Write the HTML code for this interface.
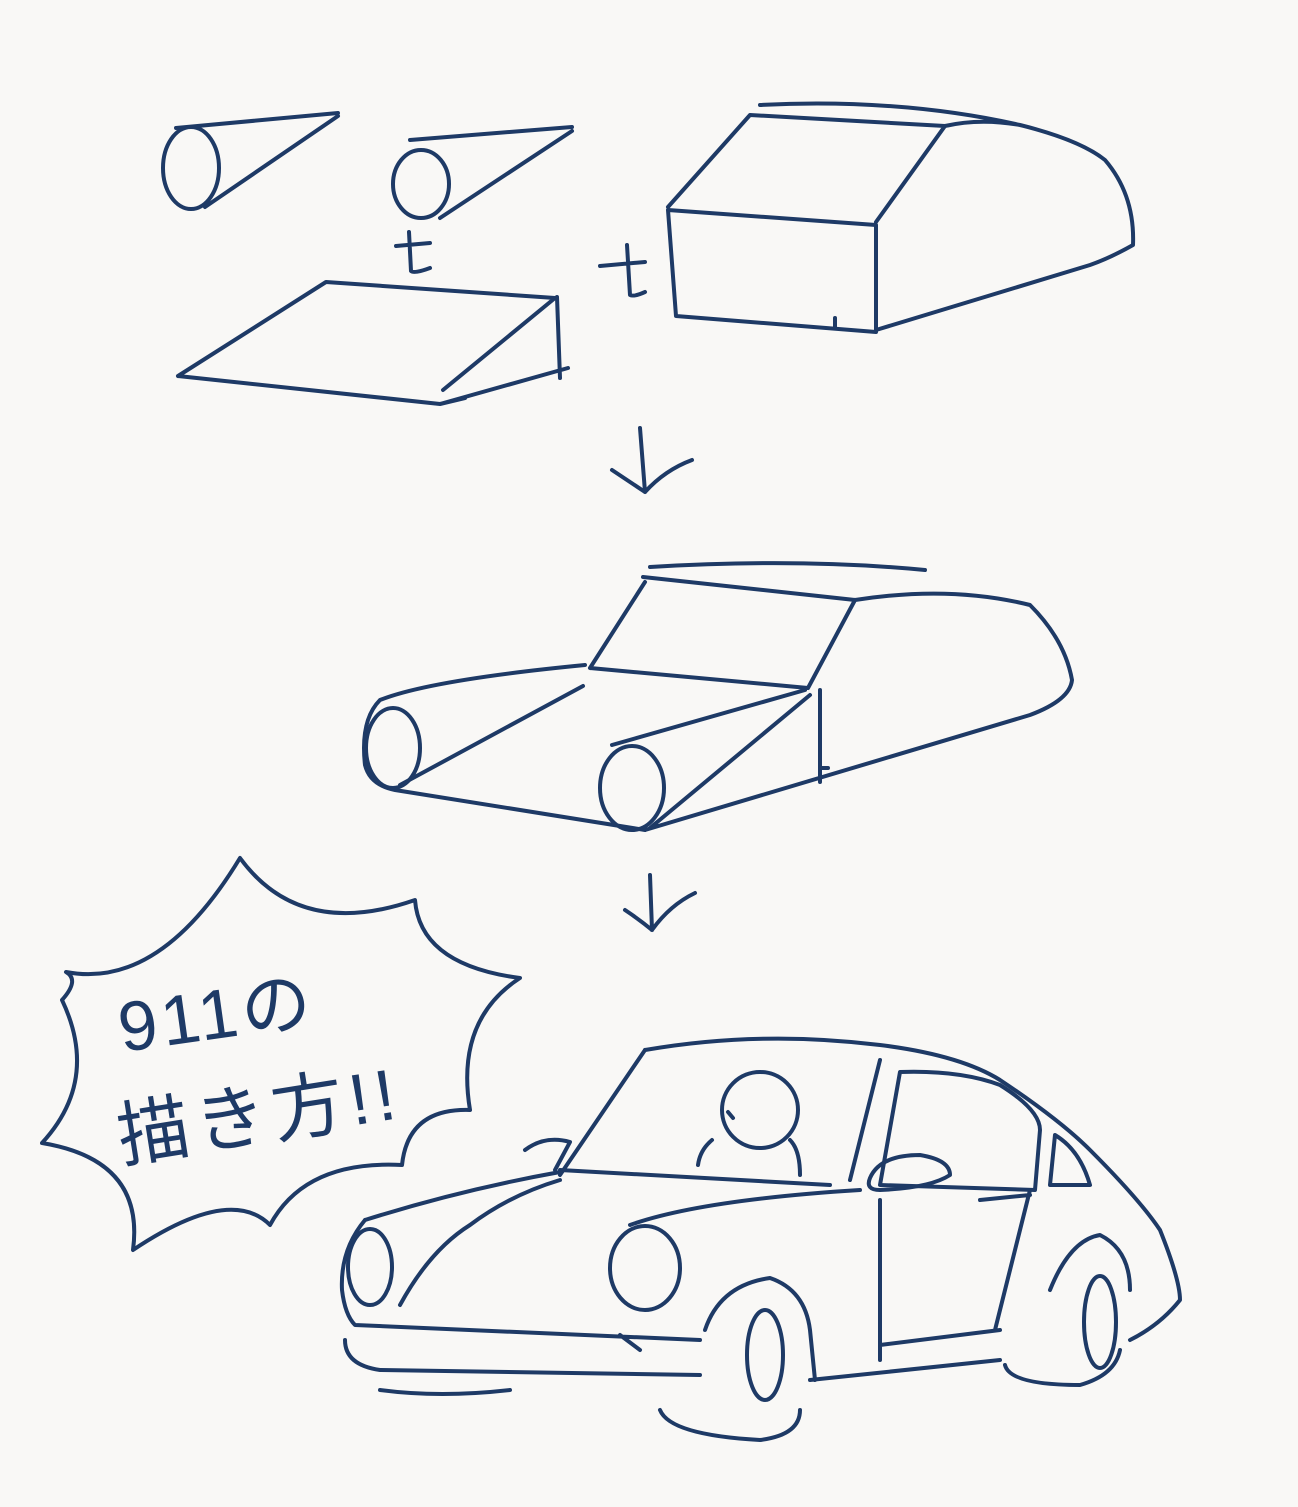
<!DOCTYPE html>
<html><head><meta charset="utf-8"><style>
html,body{margin:0;padding:0;background:#f9f8f6;}
svg{display:block}
</style></head><body>
<svg width="1298" height="1507" viewBox="0 0 1298 1507" xmlns="http://www.w3.org/2000/svg">
<rect width="1298" height="1507" fill="#f9f8f6"/>
<g fill="none" stroke="#1e3a66" stroke-width="4" stroke-linecap="round" stroke-linejoin="round">
<ellipse cx="191" cy="168" rx="28" ry="41"/>
<path d="M176 128 L338 113 M338 116 L205 207"/>
<ellipse cx="421" cy="184" rx="28" ry="34"/>
<path d="M410 140 L572 127 M572 131 L440 218"/>
<path d="M409 232 L411 271 Q414 274 430 268 M396 246 L430 243"/>
<path d="M627 245 L630 295 Q634 297 645 292 M600 266 L645 262"/>
<path d="M178 376 L326 282 L555 298 L443 390 M178 376 L440 404 L568 368 M557 297 L560 378 M440 404 L465 398"/>
<path d="M668 210 L876 225 L876 332 L676 316 Z M668 207 L750 115 L945 126 L876 222 M760 105 Q900 98 1020 125 M945 126 Q980 118 1020 125 Q1080 140 1105 160 Q1135 195 1133 245 Q1110 258 1090 265 L876 330 M835 318 L835 328"/>
<path d="M640 428 L645 492 M612 470 Q630 482 645 492 Q665 470 692 460"/>
<path d="M650 567 Q800 558 925 570 M643 577 L855 600 M645 582 L590 668 M855 600 L808 688 M855 600 Q950 585 1030 605 Q1065 640 1072 680 Q1070 700 1030 715 L645 830 M590 668 L808 688 M585 665 Q430 680 380 700 Q360 720 365 765 Q370 785 395 790 L645 830 M400 785 L583 686 M612 745 L805 690 M650 828 L810 695 M820 690 L820 782 M820 768 L828 768"/>
<ellipse cx="393" cy="748" rx="27" ry="40"/>
<ellipse cx="632" cy="788" rx="32" ry="42"/>
<path d="M650 875 L652 930 M625 910 Q640 920 652 930 Q670 905 695 893"/>
<path d="M240 858 Q300 940 415 900 Q420 965 520 978 Q455 1020 470 1110 Q408 1108 402 1165 Q305 1160 270 1225 Q230 1185 133 1250 Q145 1160 42 1143 Q100 1080 62 1000 Q80 980 66 972 Q160 990 240 858"/>
<path d="M645 1050 Q760 1030 880 1045 Q960 1055 1000 1080 Q1060 1120 1090 1150 Q1140 1200 1160 1230 Q1180 1280 1180 1300 Q1160 1325 1130 1340"/>
<path d="M645 1050 L560 1175 M880 1060 L850 1180"/>
<path d="M900 1072 Q960 1070 1000 1085 Q1040 1110 1040 1130 L1035 1190 L880 1185 Z"/>
<path d="M1055 1135 Q1080 1150 1090 1185 L1050 1185 Z"/>
<path d="M560 1170 L830 1185 M365 1220 Q460 1190 560 1172 M400 1305 Q430 1250 470 1225 Q510 1195 560 1180"/>
<path d="M630 1225 Q700 1200 860 1190"/>
<ellipse cx="370" cy="1267" rx="22" ry="38"/>
<ellipse cx="645" cy="1268" rx="35" ry="42"/>
<path d="M365 1220 Q340 1250 342 1290 Q345 1315 355 1325 L700 1340 M345 1340 Q345 1365 380 1370 L700 1375 M380 1390 Q440 1398 510 1390 M620 1335 L640 1350"/>
<path d="M705 1330 Q720 1285 770 1278 Q805 1290 810 1330 L815 1380"/>
<ellipse cx="765" cy="1355" rx="18" ry="45"/>
<path d="M660 1410 Q670 1435 760 1440 Q800 1435 800 1410"/>
<path d="M1050 1290 Q1070 1240 1100 1235 Q1130 1250 1130 1290"/>
<ellipse cx="1100" cy="1322" rx="16" ry="46"/>
<path d="M1005 1365 Q1010 1385 1080 1385 Q1115 1375 1120 1350"/>
<path d="M810 1380 L1000 1360 M880 1200 L880 1360 M1030 1190 L995 1330 M880 1345 L1000 1330 M980 1200 L1030 1195"/>
<circle cx="760" cy="1110" r="38"/>
<path d="M712 1140 Q700 1150 698 1165 M790 1140 Q800 1150 800 1175 M728 1112 L733 1118"/>
<path d="M870 1178 Q880 1155 920 1155 Q950 1160 950 1175 Q930 1188 880 1190 Q865 1190 870 1178"/>
<path d="M525 1150 Q545 1135 570 1142 L555 1170"/>
</g>
<g fill="#1e3a66" font-family="'Liberation Sans','Noto Sans CJK JP',sans-serif">
<text x="122" y="1052" font-size="70" letter-spacing="4" transform="rotate(-8 122 1052)">911の</text>
<text x="122" y="1162" font-size="72" letter-spacing="6" transform="rotate(-9 122 1162)">描き方!!</text>
</g>
</svg>
</body></html>
